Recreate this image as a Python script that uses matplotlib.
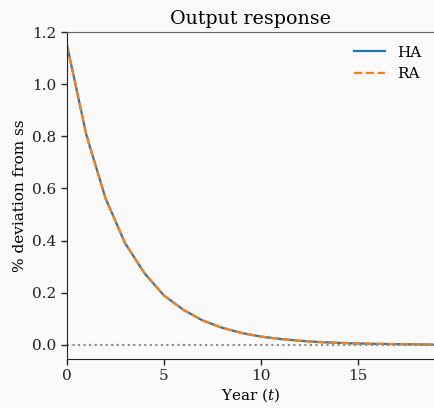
import matplotlib
matplotlib.use("Agg")
import matplotlib.pyplot as plt
import numpy as np

years = list(range(20))
ha = [1.15, 0.805, 0.56, 0.39, 0.275, 0.19, 0.135, 0.094, 0.066, 0.046,
      0.032, 0.023, 0.016, 0.011, 0.008, 0.0055, 0.004, 0.003, 0.002, 0.001]
ra = [1.15, 0.805, 0.56, 0.39, 0.275, 0.19, 0.135, 0.094, 0.066, 0.046,
      0.032, 0.023, 0.016, 0.011, 0.008, 0.0055, 0.004, 0.003, 0.002, 0.001]
xticks = [0, 5, 10, 15]
yticks = [0.0, 0.2, 0.4, 0.6, 0.8, 1.0, 1.2]

plt.rcParams['font.family'] = ['DejaVu Serif']
plt.rcParams['mathtext.fontset'] = 'dejavuserif'

W, H = 435, 408
fig = plt.figure(figsize=(W/100, H/100), dpi=100, facecolor='#fafafa')
ax = fig.add_axes([67/W, (H-359)/H, (W-67)/W, (359-32)/H])
ax.set_facecolor('#fafafa')

ax.plot(years, ha, color='#1f77b4', lw=1.6, label='HA')
ax.plot(years, ra, color='#ff7f0e', lw=1.6, ls='--', label='RA')
ax.axhline(0, color='#888888', ls=':', lw=1.5)

ax.set_xlim(0, 19)
ax.set_ylim(-0.054, 1.2)
ax.set_xticks(xticks)
ax.set_yticks(yticks)
ax.set_yticklabels([f"{v:.1f}" for v in yticks])
ax.tick_params(direction='out', length=4, width=1, labelsize=11, colors='#222222')

ax.spines['right'].set_visible(False)
ax.spines['top'].set_color('#666666')
for s in ['left', 'bottom']:
    ax.spines[s].set_color('#222222')

ax.set_title('Output response', fontsize=13.7, pad=6)
ax.set_xlabel('Year ($t$)', fontsize=11, labelpad=2)
ax.set_ylabel('% deviation from ss', fontsize=11)
ax.legend(frameon=False, loc='upper right', fontsize=11, bbox_to_anchor=(1.0, 1.0))

fig.savefig('out.png', dpi=100, facecolor='#fafafa')
